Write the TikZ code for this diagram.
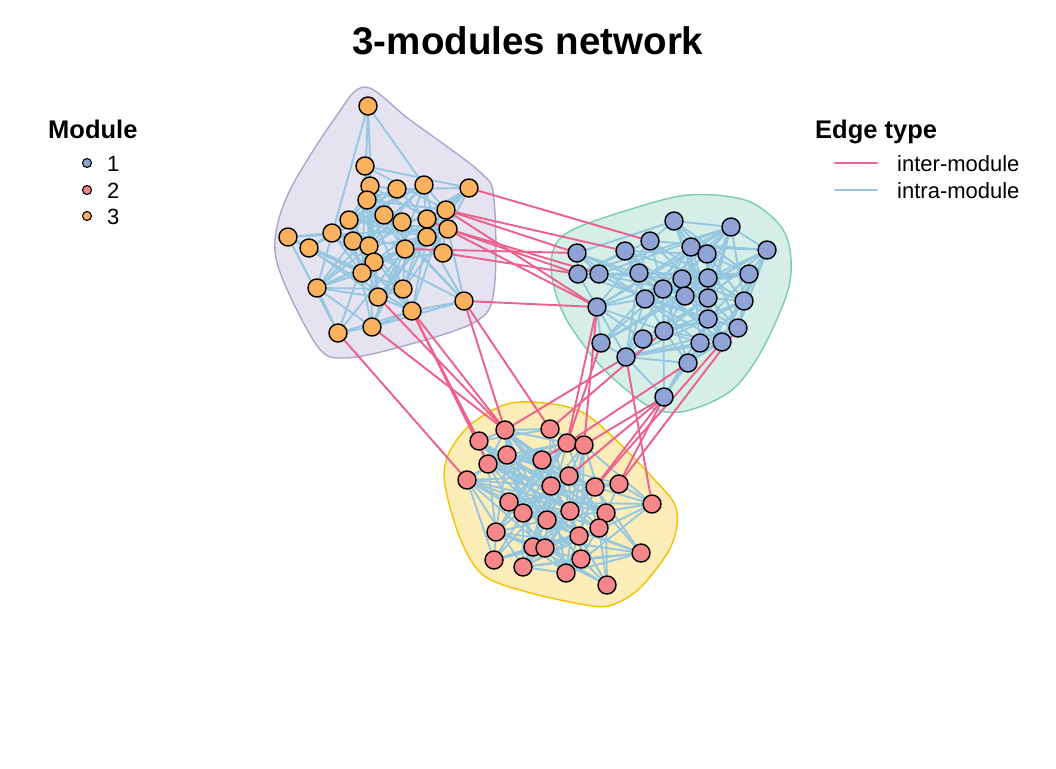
\documentclass[tikz,border=0pt]{standalone}
\usepackage{fontspec}
\setmainfont{Liberation Sans}
\pgfdeclarelayer{hulls}
\pgfdeclarelayer{edges}
\pgfsetlayers{hulls,edges,main}
\definecolor{nodeblue}{HTML}{8FA3D6}
\definecolor{nodered}{HTML}{F5868A}
\definecolor{nodeorange}{HTML}{FBB25E}
\definecolor{edgeintra}{HTML}{96C7E0}
\definecolor{edgeinter}{HTML}{EE5F8B}
\definecolor{hullpurple}{HTML}{E6E3F1}
\definecolor{hullpurpleline}{HTML}{ACA4CE}
\definecolor{hullteal}{HTML}{D6EEE8}
\definecolor{hulltealline}{HTML}{79CCB3}
\definecolor{hullyellow}{HTML}{FCECB8}
\definecolor{hullyellowline}{HTML}{F5C000}
% intra-module link, drawn with a probability that falls with distance
\newcommand\intralink[3]{%
  \pgfpointdiff{\pgfpointanchor{#1#2}{center}}{\pgfpointanchor{#1#3}{center}}%
  \pgfgetlastxy{\linkdx}{\linkdy}%
  \pgfmathsetmacro\linkd{veclen(\linkdx,\linkdy)}%
  \pgfmathsetmacro\linkp{0.1+0.8*exp(-\linkd/60)}%
  \pgfmathsetmacro\linkr{rnd}%
  \ifdim\linkr pt<\linkp pt\relax\draw[intra] (#1#2) -- (#1#3);\fi}
\begin{document}
\begin{tikzpicture}[x=1pt,y=-1pt,line join=round,line cap=round]
\tikzset{vert/.style={circle,draw=black,line width=1.4pt,minimum size=18pt,inner sep=0pt},
	mod1/.style={vert,fill=nodeblue},
	mod2/.style={vert,fill=nodered},
	mod3/.style={vert,fill=nodeorange},
	intra/.style={draw=edgeintra,line width=1.9pt},
	inter/.style={draw=edgeinter,line width=1.9pt},
	legdot/.style={minimum size=9pt,line width=1.1pt},
	legtitle/.style={font=\bfseries\fontsize{25.5}{28}\selectfont},
	legtext/.style={font=\fontsize{22}{24}\selectfont,inner sep=0pt}}
\useasboundingbox (0,0) rectangle (1056,768);
\pgfmathsetseed{42}
% module hulls
\begin{pgfonlayer}{hulls}
	\draw[fill=hullpurple,draw=hullpurpleline,line width=1.4pt] plot[smooth cycle,tension=0.55] coordinates {(365,87) (410,120) (480,172) (494,200) (494,290) (475,322) (400,347) (345,358) (318,347) (283,280) (275,240) (290,190) (335,118)};
	\draw[fill=hullteal,draw=hulltealline,line width=1.4pt] plot[smooth cycle,tension=0.55] coordinates {(688,195) (745,200) (778,223) (790,250) (788,290) (762,350) (732,390) (690,410) (660,411) (635,397) (598,363) (565,317) (552,277) (554,248) (572,230) (628,210)};
	\draw[fill=hullyellow,draw=hullyellowline,line width=1.4pt] plot[smooth cycle,tension=0.55] coordinates {(507,404) (545,403) (582,412) (614,438) (653,478) (674,503) (677,525) (668,552) (640,588) (612,605) (586,605) (527,592) (483,575) (460,538) (445,485) (448,455) (470,425)};
\end{pgfonlayer}
% nodes
\foreach \x/\y [count=\k] in {674/221,731/227,650/241,577/253,625/251,691/247,707/254,767/250,578/274,599/274,639/273,682/279,708/278,749/274,663/289,597/307,645/299,685/296,708/298,744/301,708/319,738/328,664/331,643/339,601/343,700/343,722/342,626/357,688/363,664/397}
	\node[mod1] (b\k) at (\x,\y) {};
\foreach \x/\y [count=\k] in {505/430,550/429,479/441,567/443,584/445,507/455,488/464,542/460,467/480,569/476,551/486,595/487,619/484,652/504,509/502,523/513,547/520,570/511,606/513,599/528,496/532,579/536,533/547,545/548,494/560,581/559,641/553,523/567,566/573,607/585}
	\node[mod2] (r\k) at (\x,\y) {};
\foreach \x/\y [count=\k] in {368/106,365/166,370/186,397/189,424/185,469/188,367/200,446/210,349/220,384/215,402/222,427/219,448/229,332/233,288/237,353/241,369/246,427/237,405/249,443/253,309/248,374/262,362/273,317/288,403/289,378/297,412/311,464/301,338/333,372/327}
	\node[mod3] (o\k) at (\x,\y) {};
% edges
\begin{pgfonlayer}{edges}
	\foreach \m in {b,r,o}
	\foreach \i in {1,...,29}{
		\pgfmathtruncatemacro\nxt{\i+1}
		\foreach \j in {\nxt,...,30}{\intralink{\m}{\i}{\j}}
	}
	\foreach \s/\t in {o6/b3,o8/b5,o8/b4,o8/b16,o13/b9,o13/b10,o12/b16,o19/b4,o20/b9,o28/b16,
		o29/r9,o30/r1,o26/r1,o27/r3,o27/r1,o27/r7,o28/r1,o28/r2,
		b16/r4,b16/r5,b25/r4,b28/r14,b23/r2,b30/r13,b30/r12,b30/r10,b30/r5,b29/r8,b28/r1,b27/r12,b22/r13}
	\draw[inter] (\s) -- (\t);
\end{pgfonlayer}
% title and legends
\node[font=\bfseries\fontsize{38.5}{42}\selectfont,anchor=base] (title) at (528,55) {3-modules network};
\node[legtitle,anchor=base west,inner sep=0pt] (modtitle) at (48,138) {Module};
\foreach \c/\t/\y in {mod1/1/163,mod2/2/190,mod3/3/216}{
	\node[\c,legdot] (key\t) at (87,\y) {};
	\node[legtext,anchor=base west] (keytext\t) at (107,\y+8) {\t};
}
\node[legtitle,anchor=base west,inner sep=0pt] (edgetitle) at (815,138) {Edge type};
\coordinate (ia) at (835,163);
\coordinate (ib) at (877,163);
\coordinate (ja) at (835,190);
\coordinate (jb) at (877,190);
\draw[inter] (ia) -- (ib);
\draw[intra] (ja) -- (jb);
\node[legtext,anchor=base west] (intertext) at (897,171) {inter-module};
\node[legtext,anchor=base west] (intratext) at (897,198) {intra-module};
\end{tikzpicture}
\end{document}
